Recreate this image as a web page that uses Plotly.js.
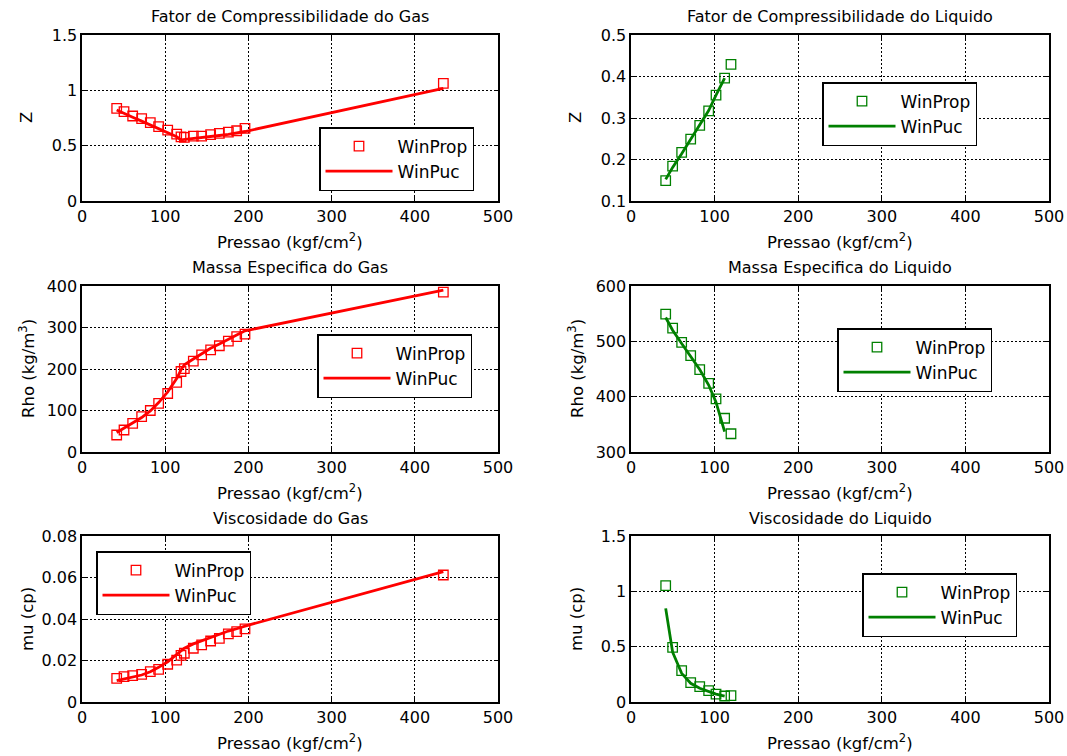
<!DOCTYPE html>
<html><head><meta charset="utf-8">
<script src="https://cdn.plot.ly/plotly-3.0.1.min.js"></script>
<style>html,body{margin:0;padding:0;background:#fff;} #chart{width:1067px;height:756px;}</style>
</head><body><div id="chart"></div>
<script>
// ---------- DATA ----------
const seriesNames = ['WinProp', 'WinPuc'];
const panelTitles = [
  'Fator de Compressibilidade do Gas', 'Fator de Compressibilidade do Liquido',
  'Massa Especifica do Gas', 'Massa Especifica do Liquido',
  'Viscosidade do Gas', 'Viscosidade do Liquido'
];
const yTitles = ['Z', 'Z', 'Rho (kg/m<sup>3</sup>)', 'Rho (kg/m<sup>3</sup>)', 'mu (cp)', 'mu (cp)'];
const xTitle = 'Pressao (kgf/cm<sup>2</sup>)';

// Gas phase (red)
const pGas = [41.7, 50.5, 60.9, 71.7, 82.1, 92.1, 103.0, 113.8, 119.0, 123.0, 133.8, 143.8, 154.6, 165.1, 175.9, 185.9, 195.9, 434.3];
const zGasProp = [0.837, 0.807, 0.768, 0.744, 0.708, 0.672, 0.641, 0.605, 0.580, 0.575, 0.587, 0.587, 0.599, 0.611, 0.623, 0.635, 0.656, 1.063];
const zGasPuc  = [0.822, 0.795, 0.757, 0.722, 0.688, 0.652, 0.618, 0.580, 0.552, 0.555, 0.565, 0.572, 0.582, 0.592, 0.603, 0.613, 0.628, 1.018];
const rhoGasProp = [41, 53, 69, 85, 100, 117, 141, 168, 194, 201, 219, 234, 246, 256, 267, 278, 284, 385];
const rhoGasPuc  = [47, 57, 69, 83, 99, 119, 145, 177, 198, 210, 224, 236, 250, 260, 272, 282, 292, 390];
const muGasProp = [0.0114, 0.0122, 0.0127, 0.0133, 0.0146, 0.0157, 0.0182, 0.0202, 0.0225, 0.0235, 0.0259, 0.0275, 0.0294, 0.0307, 0.0328, 0.0339, 0.0352, 0.0612];
const muGasPuc  = [0.0103, 0.0111, 0.0119, 0.0130, 0.0146, 0.0167, 0.0194, 0.0227, 0.0247, 0.0259, 0.0280, 0.0295, 0.0312, 0.0326, 0.0342, 0.0353, 0.0366, 0.0628];

// Liquid phase (green)
const pLiqProp = [41.5, 49.8, 60.6, 71.4, 82.2, 92.9, 101.7, 112.0, 119.6];
const pLiqPuc  = [41.5, 49.8, 60.6, 71.4, 82.2, 92.9, 101.7, 112.0];
const zLiqProp = [0.149, 0.184, 0.217, 0.249, 0.282, 0.317, 0.355, 0.396, 0.429];
const zLiqPuc  = [0.152, 0.181, 0.214, 0.248, 0.283, 0.318, 0.355, 0.396];
const rhoLiqProp = [549, 524, 498, 474, 449, 424, 396, 361, 333];
const rhoLiqPuc  = [543, 520, 496, 473, 449, 421, 390, 337];
const muLiqProp = [1.051, 0.494, 0.283, 0.175, 0.139, 0.102, 0.072, 0.054, 0.057];
const muLiqPuc  = [0.846, 0.450, 0.259, 0.169, 0.124, 0.093, 0.072, 0.054];

// Axis ranges / ticks
const xRange = [0, 500], xDtick = 100;
const yRanges = [[0, 1.5], [0.1, 0.5], [0, 400], [300, 600], [0, 0.08], [0, 1.5]];
const yDticks = [0.5, 0.1, 100, 100, 0.02, 0.5];

// ---------- LAYOUT ----------
const W = 1067, H = 756;
const RED = '#FF0000', GREEN = '#008000';
const FONT = 'DejaVu Sans, Liberation Sans, Arial, sans-serif';
const cols = [[82, 498], [631, 1049]];
const rows = [[35, 201], [286, 452], [536, 702]];
const legendTopLeft = [[319, 127], [822, 82], [317, 334], [837, 328], [96, 551], [862, 573]];

const propX = [pGas, pLiqProp, pGas, pLiqProp, pGas, pLiqProp];
const propY = [zGasProp, zLiqProp, rhoGasProp, rhoLiqProp, muGasProp, muLiqProp];
const pucX = [pGas, pLiqPuc, pGas, pLiqPuc, pGas, pLiqPuc];
const pucY = [zGasPuc, zLiqPuc, rhoGasPuc, rhoLiqPuc, muGasPuc, muLiqPuc];
const colors = [RED, GREEN, RED, GREEN, RED, GREEN];

const traces = [];
const layout = {
  width: W, height: H,
  margin: {l: 0, r: 0, t: 0, b: 0},
  paper_bgcolor: '#fff', plot_bgcolor: '#fff',
  font: {family: FONT, color: '#000', size: 16},
  annotations: [], showlegend: true
};

for (let i = 0; i < 6; i++) {
  const c = cols[i % 2], r = rows[Math.floor(i / 2)];
  const sfx = i === 0 ? '' : String(i + 1);
  const legName = 'legend' + sfx;
  traces.push({
    type: 'scatter', mode: 'markers', name: seriesNames[0],
    x: propX[i], y: propY[i], xaxis: 'x' + sfx, yaxis: 'y' + sfx, legend: legName,
    marker: {symbol: 'square-open', size: 9.5, color: colors[i], line: {width: 1.3, color: colors[i]}}
  });
  traces.push({
    type: 'scatter', mode: 'lines', name: seriesNames[1],
    x: pucX[i], y: pucY[i], xaxis: 'x' + sfx, yaxis: 'y' + sfx, legend: legName,
    line: {color: colors[i], width: 2.8}
  });
  const common = {
    showgrid: true, gridcolor: '#000', gridwidth: 1, griddash: '2px,2px',
    zeroline: false, showline: true, linecolor: '#000', linewidth: 1.6, mirror: 'ticks',
    ticks: 'inside', ticklen: 4, tickcolor: '#000', tickwidth: 1,
    tickfont: {size: 16, family: FONT, color: '#000'}, fixedrange: true
  };
  layout['xaxis' + sfx] = Object.assign({}, common, {
    domain: [c[0] / W, c[1] / W], range: xRange, dtick: xDtick, tick0: 0,
    anchor: 'y' + sfx
  });
  layout['yaxis' + sfx] = Object.assign({}, common, {
    domain: [1 - r[1] / H, 1 - r[0] / H], range: yRanges[i], dtick: yDticks[i], tick0: yRanges[i][0],
    anchor: 'x' + sfx
  });
  layout[legName] = {
    x: legendTopLeft[i][0] / W, y: 1 - legendTopLeft[i][1] / H, xanchor: 'left', yanchor: 'top',
    bgcolor: '#fff', bordercolor: '#000', borderwidth: 1.5,
    font: {size: 17, family: FONT, color: '#000'}, itemwidth: 67
  };
  const cx = (c[0] + c[1]) / 2 / W;
  layout.annotations.push({
    text: panelTitles[i], xref: 'paper', yref: 'paper', x: cx, y: 1 - (r[0] - 18) / H,
    xanchor: 'center', yanchor: 'middle', showarrow: false, font: {size: 16, family: FONT}
  });
  layout.annotations.push({
    text: xTitle, xref: 'paper', yref: 'paper', x: cx, y: 1 - (r[1] + 40) / H,
    xanchor: 'center', yanchor: 'middle', showarrow: false, font: {size: 16.5, family: FONT}
  });
  layout.annotations.push({
    text: yTitles[i], xref: 'paper', yref: 'paper', x: (c[0] - 55) / W, y: 1 - (r[0] + r[1]) / 2 / H,
    xanchor: 'center', yanchor: 'middle', textangle: -90, showarrow: false, font: {size: 16.5, family: FONT}
  });
}

Plotly.newPlot('chart', traces, layout, {displayModeBar: false, staticPlot: true});
</script></body></html>
